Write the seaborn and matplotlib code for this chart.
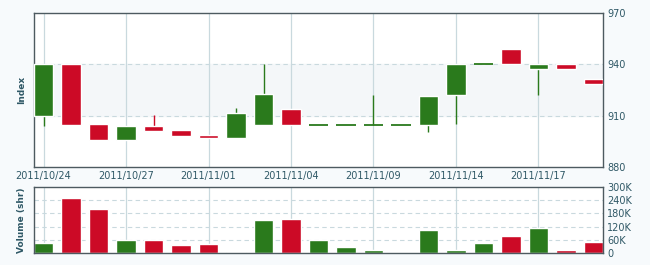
import numpy as np
import pandas as pd
import matplotlib
matplotlib.use("Agg")
import matplotlib.pyplot as plt
import seaborn as sns

dates = ["2011/10/24", "2011/10/25", "2011/10/26", "2011/10/27", "2011/10/28",
         "2011/10/31", "2011/11/01", "2011/11/02", "2011/11/03", "2011/11/04",
         "2011/11/07", "2011/11/08", "2011/11/09", "2011/11/10", "2011/11/11",
         "2011/11/14", "2011/11/15", "2011/11/16", "2011/11/17", "2011/11/18",
         "2011/11/21"]
opens = [910.0, 940.0, 905.0, 895.6, 903.9, 901.5, 898.8, 897.2, 904.6, 913.8,
         904.8, 904.8, 904.8, 904.8, 904.6, 922.3, 940.3, 949.1, 937.3, 940.3, 931.4]
closes = [940.3, 904.6, 895.6, 903.9, 901.1, 898.0, 897.0, 911.5, 922.4, 904.6,
          904.8, 904.8, 904.8, 904.8, 921.5, 940.3, 940.3, 940.1, 940.3, 937.3, 928.7]
highs = [940.3, 940.0, 905.0, 903.9, 910.3, 901.5, 898.8, 914.6, 940.0, 913.8,
         904.8, 904.8, 922.1, 904.8, 921.5, 940.3, 940.3, 949.1, 940.3, 940.3, 931.4]
lows = [903.9, 904.6, 895.6, 895.6, 901.1, 898.0, 897.0, 897.2, 904.6, 904.6,
        904.8, 904.8, 904.8, 904.8, 900.5, 905.0, 940.3, 940.1, 922.1, 937.3, 928.7]
volumes = [47000, 251000, 201000, 61000, 61000, 38000, 42000, 6000, 152000, 156000,
           61000, 29000, 15000, 0, 106000, 15000, 47000, 79000, 115000, 15000, 52000]
date_ticks = ["2011/10/24", "2011/10/27", "2011/11/01", "2011/11/04",
              "2011/11/09", "2011/11/14", "2011/11/17"]
price_ticks = [880, 910, 940, 970]
vol_ticks = [0, 60000, 120000, 180000, 240000, 300000]
vol_labels = ["0", "60K", "120K", "180K", "240K", "300K"]

GREEN = "#2a7a1c"
RED = "#cc0a26"
TXT = "#2f5866"
SPINE = "#4d5a60"
GRID = "#c9d9de"

sns.set_style("white")
plt.rcParams["font.family"] = ["DejaVu Sans"]

idx = np.arange(len(dates))
o = np.array(opens); c = np.array(closes)
colors = [GREEN if cc >= oo else RED for oo, cc in zip(opens, closes)]

fig = plt.figure(figsize=(6.5, 2.65), dpi=100)
fig.patch.set_facecolor("#f7fafc")
W, H = 650, 265
ax = fig.add_axes([34 / W, 1 - 167 / H, (603 - 34) / W, (167 - 13) / H])
axv = fig.add_axes([34 / W, 1 - 253 / H, (603 - 34) / W, (253 - 187) / H])

xlim = (-0.35, len(dates) - 1 + 0.35)
tick_pos = [dates.index(d) for d in date_ticks]

# price panel
ax.set_facecolor("white")
ax.axhspan(910, 940, color="#f4f7f9", zorder=0)
for y in [910, 940]:
    ax.axhline(y, color=GRID, lw=0.8, ls=(0, (4, 3)), zorder=1)
for p in tick_pos:
    ax.axvline(p, color=GRID, lw=0.9, zorder=1)
ax.vlines(idx, lows, highs, colors=colors, lw=1.0, zorder=2)
body = np.abs(c - o)
solid = body > 0.01
ax.bar(idx[solid], body[solid], bottom=np.minimum(o, c)[solid], width=0.7,
       color=[col for col, s in zip(colors, solid) if s], zorder=3)
doji = ~solid
ax.hlines(c[doji], idx[doji] - 0.35, idx[doji] + 0.35,
          colors=[col for col, d in zip(colors, doji) if d], lw=1.3, zorder=3)
ax.set_xlim(*xlim)
ax.set_ylim(880, 970)
ax.yaxis.tick_right()
ax.set_yticks(price_ticks)
ax.set_xticks(tick_pos)
ax.set_xticklabels(date_ticks)
ax.tick_params(axis="both", length=0, labelsize=7, labelcolor=TXT, pad=3)
ax.set_ylabel("Index", color=TXT, fontsize=6.5, fontweight="bold", labelpad=6)
ax.yaxis.set_label_position("left")

# volume panel
df = pd.DataFrame({"idx": idx, "volume": volumes, "key": [str(i) for i in idx]})
axv.set_facecolor("white")
for y in vol_ticks[1:-1]:
    axv.axhline(y, color=GRID, lw=0.8, ls=(0, (4, 3)), zorder=0)
for p in tick_pos:
    axv.axvline(p, color=GRID, lw=0.9, zorder=0)
sns.barplot(data=df, x="idx", y="volume", hue="key", palette=colors,
            native_scale=True, width=0.7, legend=False, ax=axv, zorder=2,
            saturation=1)
axv.set_xlim(*xlim)
axv.set_ylim(0, 300000)
axv.yaxis.tick_right()
axv.set_yticks(vol_ticks)
axv.set_yticklabels(vol_labels)
axv.set_xticks(tick_pos)
axv.set_xticklabels([])
axv.set_xlabel("")
axv.tick_params(axis="both", length=0, labelsize=7, labelcolor=TXT, pad=3)
axv.set_ylabel("Volume (shr)", color=TXT, fontsize=6.5, fontweight="bold", labelpad=6)
axv.yaxis.set_label_position("left")

for a in (ax, axv):
    for s in a.spines.values():
        s.set_color(SPINE)
        s.set_linewidth(1.0)
        s.set_visible(True)

fig.savefig("out.png", dpi=100, facecolor=fig.get_facecolor())
